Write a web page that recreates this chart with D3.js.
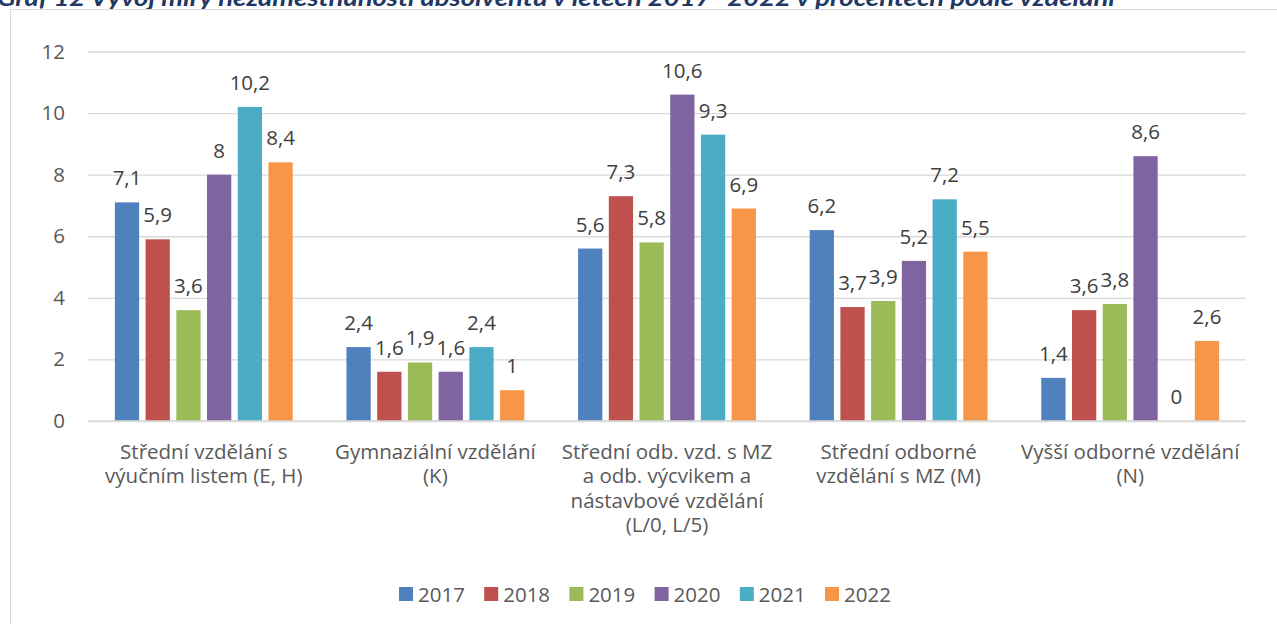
<!DOCTYPE html>
<html>
<head>
<meta charset="utf-8">
<script src="https://cdn.jsdelivr.net/npm/d3@7"></script>
<style>
  body { margin: 0; background: #fff; }
  svg { display: block; font-family: "Open Sans", Lato, sans-serif; }
</style>
</head>
<body>
<svg id="chart" width="1277" height="624"></svg>
<script>
var categories = [
  ["Střední vzdělání s", "výučním listem (E, H)"],
  ["Gymnaziální vzdělání", "(K)"],
  ["Střední odb. vzd. s MZ", "a odb. výcvikem a", "nástavbové vzdělání", "(L/0, L/5)"],
  ["Střední odborné", "vzdělání s MZ (M)"],
  ["Vyšší odborné vzdělání", "(N)"]
];
var years = ["2017", "2018", "2019", "2020", "2021", "2022"];
var v2017 = [7.1, 2.4, 5.6, 6.2, 1.4];
var v2018 = [5.9, 1.6, 7.3, 3.7, 3.6];
var v2019 = [3.6, 1.9, 5.8, 3.9, 3.8];
var v2020 = [8, 1.6, 10.6, 5.2, 8.6];
var v2021 = [10.2, 2.4, 9.3, 7.2, 0];
var v2022 = [8.4, 1, 6.9, 5.5, 2.6];
var yTicks = [0, 2, 4, 6, 8, 10, 12];
var colors = ["#4F81BD", "#C0504D", "#9BBB59", "#8064A2", "#4BACC6", "#F79646"];

var series = [v2017, v2018, v2019, v2020, v2021, v2022];
var svg = d3.select("#chart");
var fs = "20.5px";

// title, cut off at the top of the picture
svg.append("text")
  .attr("x", -3).attr("y", 6)
  .attr("textLength", 1118)
  .attr("lengthAdjust", "spacingAndGlyphs")
  .style("font-family", "Lato, sans-serif")
  .style("font-weight", "bold").style("font-style", "italic")
  .style("font-size", "22px").style("fill", "#1F3864")
  .text("Graf 12 Vývoj míry nezaměstnanosti absolventů v letech 2017–2022 v procentech podle vzdělání");

// chart frame
svg.append("rect")
  .attr("x", 10.5).attr("y", 9.5).attr("width", 1300).attr("height", 700)
  .attr("fill", "none").attr("stroke", "#D9D9D9");

var plotL = 88, plotR = 1246, plotT = 51.5, plotB = 421;

var x0 = d3.scaleBand().domain(d3.range(categories.length)).range([plotL, plotR]);
var x1 = d3.scaleBand().domain(years)
  .range([x0.bandwidth() / 2 - 92, x0.bandwidth() / 2 + 92])
  .paddingInner(0.21).paddingOuter(0.1);
var y = d3.scaleLinear().domain([0, 12]).range([plotB, plotT]);

// gridlines + y labels
var yAxis = d3.axisLeft(y).tickValues(yTicks).tickSize(-(plotR - plotL)).tickPadding(23);
var ga = svg.append("g").attr("transform", "translate(" + plotL + ",0)").call(yAxis);
ga.select(".domain").remove();
ga.selectAll("line").attr("stroke", "#D9D9D9").attr("stroke-width", 1.3);
ga.selectAll("text").style("font-size", fs).style("fill", "#595959")
  .style("font-family", "'Open Sans', sans-serif");

// bars
var groups = svg.selectAll("g.cat").data(categories).enter().append("g")
  .attr("class", "cat")
  .attr("transform", function(d, i) { return "translate(" + x0(i) + ",0)"; });

years.forEach(function(yr, s) {
  groups.append("rect")
    .attr("x", x1(yr))
    .attr("y", function(d, i) { return y(series[s][i]); })
    .attr("width", x1.bandwidth())
    .attr("height", function(d, i) { return plotB - y(series[s][i]); })
    .attr("fill", colors[s]);
  groups.append("text")
    .attr("x", x1(yr) + x1.bandwidth() / 2)
    .attr("y", function(d, i) { return y(series[s][i]) - 17; })
    .attr("text-anchor", "middle")
    .style("font-size", fs).style("fill", "#404040")
    .text(function(d, i) { return String(series[s][i]).replace(".", ","); });
});

// category labels
groups.each(function(lines) {
  var t = d3.select(this).append("text")
    .attr("text-anchor", "middle")
    .style("font-size", fs).style("fill", "#595959");
  lines.forEach(function(l, k) {
    t.append("tspan").attr("x", x0.bandwidth() / 2).attr("y", 459 + k * 24.4).text(l);
  });
});

// axis line
svg.append("line").attr("x1", plotL).attr("x2", plotR).attr("y1", plotB).attr("y2", plotB)
  .attr("stroke", "#D9D9D9").attr("stroke-width", 1.3);

// legend
var leg = svg.selectAll("g.leg").data(years).enter().append("g")
  .attr("class", "leg")
  .attr("transform", function(d, i) { return "translate(" + (399 + i * 85.2) + ",587)"; });
leg.append("rect").attr("width", 14).attr("height", 14)
  .attr("fill", function(d, i) { return colors[i]; });
leg.append("text").attr("x", 19).attr("y", 14.5)
  .style("font-size", fs).style("fill", "#595959")
  .text(function(d) { return d; });
</script>
</body>
</html>
